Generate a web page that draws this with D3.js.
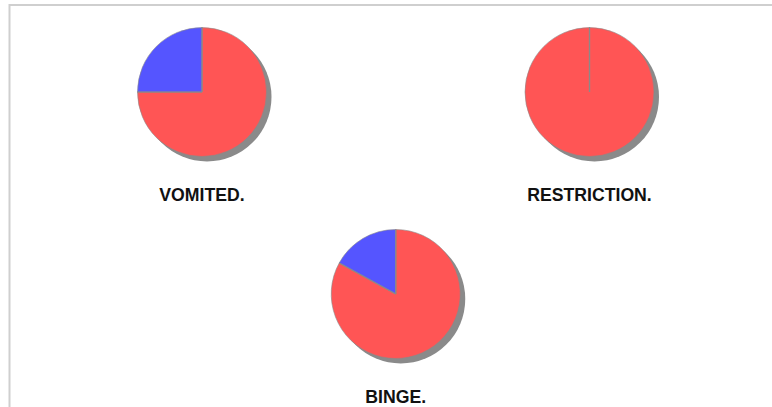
<!DOCTYPE html>
<html lang="en">
<head>
<meta charset="UTF-8">
<title>Pie charts</title>
<script src="https://d3js.org/d3.v7.min.js"></script>
<style>
  body { margin: 0; background: #fff; }
</style>
</head>
<body>
<svg id="chart" width="772" height="407"></svg>
<script>
// chart data
const charts = ["VOMITED.", "RESTRICTION.", "BINGE."];
const redValues = [75, 100, 83];
const blueValues = [25, 0, 17];
const sliceColors = ["#ff5555", "#5555ff"];

const svg = d3.select("#chart");
const radius = 64.5;

// light frame, open on the right and bottom
svg.append("path")
    .attr("d", "M9.5,412V5H780")
    .attr("fill", "none")
    .attr("stroke", "#cfcfcf")
    .attr("stroke-width", 2);

// two rows: first row two pies, second row one pie in the middle
const x = d3.scaleLinear().domain([0, 1]).range([202, 589.5]);
const y = d3.scaleLinear().domain([0, 1]).range([92, 294]);
const place = [[0, 0], [1, 0], [0.5, 1]];

const pie = d3.pie().sort(null).value(d => d);
const arc = d3.arc().innerRadius(0).outerRadius(radius);

const groups = svg.selectAll(".pie")
    .data(charts)
    .enter().append("g")
    .attr("class", "pie")
    .attr("transform", (d, i) => `translate(${x(place[i][0])},${y(place[i][1])})`);

// drop shadow
groups.append("circle")
    .attr("cx", 5)
    .attr("cy", 5)
    .attr("r", radius)
    .attr("fill", "#8a8a8a");

groups.selectAll(".slice")
    .data((d, i) => pie([redValues[i], blueValues[i]]))
    .enter().append("path")
    .attr("class", "slice")
    .attr("d", arc)
    .attr("fill", (d, i) => sliceColors[i])
    .attr("stroke", "#8a8a8a")
    .attr("stroke-width", 0.6);

// slice borders (also shows the empty slice in RESTRICTION)
groups.selectAll(".edge")
    .data((d, i) => pie([redValues[i], blueValues[i]]))
    .enter().append("line")
    .attr("class", "edge")
    .attr("x1", 0)
    .attr("y1", 0)
    .attr("x2", d => radius * Math.sin(d.startAngle))
    .attr("y2", d => -radius * Math.cos(d.startAngle))
    .attr("stroke", "#8a8a8a")
    .attr("stroke-width", 1.2);

groups.append("text")
    .text(d => d)
    .attr("text-anchor", "middle")
    .attr("transform", `translate(0,${radius + 44.5}) scale(0.93,1)`)
    .style("font-family", "'Liberation Sans', Arial, sans-serif")
    .style("font-weight", "bold")
    .style("font-size", "19px")
    .style("fill", "#111");
</script>
</body>
</html>
